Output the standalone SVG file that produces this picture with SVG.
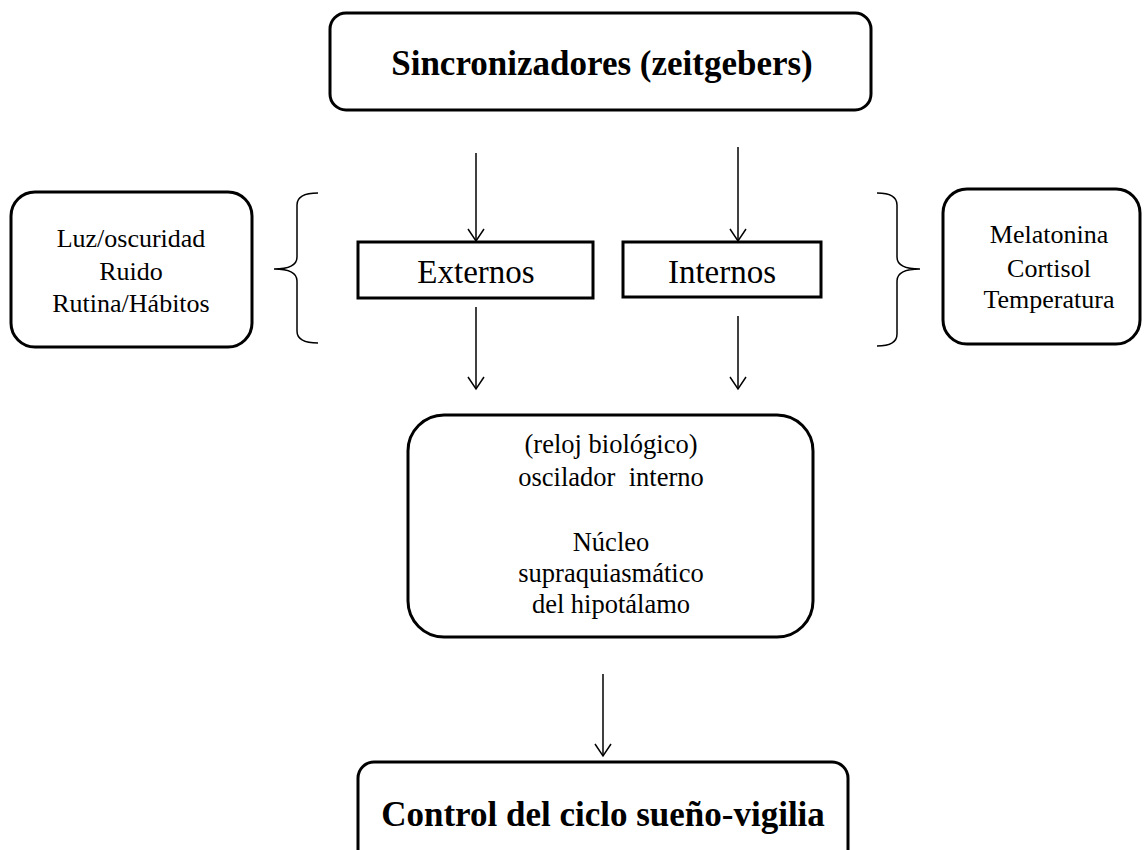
<svg xmlns="http://www.w3.org/2000/svg" width="1148" height="850" viewBox="0 0 1148 850">
<defs>
<style>
.box{fill:#fff;stroke:#000;stroke-width:3}
.t{font-family:"Liberation Serif","Times New Roman",serif;fill:#000;text-anchor:middle}
.b{font-weight:bold}
.ln{fill:none;stroke:#000;stroke-width:1.5}
</style>
<marker id="ah" viewBox="-14 -10 16 20" markerWidth="16" markerHeight="20" refX="0" refY="0" orient="auto" markerUnits="userSpaceOnUse" overflow="visible">
<path d="M-12,-8 L0,0 L-12,8" fill="none" stroke="#000" stroke-width="1.5"/>
</marker>
</defs>
<rect width="1148" height="850" fill="#fff"/>
<g id="sincronizadores">
<rect class="box" x="330" y="13" width="541" height="97" rx="16"/>
<text class="t b" x="602" y="75" font-size="35">Sincronizadores (zeitgebers)</text>
</g>
<g id="externos-lista">
<rect class="box" x="11" y="192" width="241" height="155" rx="24"/>
<text class="t" x="131" y="247" font-size="26">Luz/oscuridad</text>
<text class="t" x="131" y="280" font-size="26">Ruido</text>
<text class="t" x="131" y="312" font-size="26">Rutina/Hábitos</text>
</g>
<g id="externos">
<rect class="box" x="358" y="242" width="235" height="56"/>
<text class="t" x="476" y="283" font-size="33">Externos</text>
</g>
<g id="internos">
<rect class="box" x="623" y="242" width="198" height="55"/>
<text class="t" x="722" y="283" font-size="33">Internos</text>
</g>
<g id="internos-lista">
<rect class="box" x="943" y="189" width="197" height="155" rx="24"/>
<text class="t" x="1049" y="243" font-size="26">Melatonina</text>
<text class="t" x="1049" y="277" font-size="26">Cortisol</text>
<text class="t" x="1049" y="308" font-size="26">Temperatura</text>
</g>
<g id="oscilador">
<rect class="box" x="408" y="415" width="405" height="222" rx="36"/>
<text class="t" x="611" y="453" font-size="26.5">(reloj biológico)</text>
<text class="t" x="611" y="486" font-size="26.5" xml:space="preserve">oscilador  interno</text>
<text class="t" x="611" y="551" font-size="26.5">Núcleo</text>
<text class="t" x="611" y="582" font-size="26.5">supraquiasmático</text>
<text class="t" x="611" y="613" font-size="26.5">del hipotálamo</text>
</g>
<g id="control">
<rect class="box" x="358" y="762" width="490" height="110" rx="16"/>
<text class="t b" x="603" y="826" font-size="35">Control del ciclo sueño-vigilia</text>
</g>
<g id="connectors">
<path class="ln" d="M318,193 Q297,193 297,205 L297,257 Q297,269 274,269 Q297,269 297,281 L297,331 Q297,343 318,343"/>
<path class="ln" d="M877,193 Q897,193 897,205 L897,257 Q897,269 920,269 Q897,269 897,281 L897,334 Q897,346 877,346"/>
<line class="ln" x1="476" y1="153" x2="476" y2="241" marker-end="url(#ah)"/>
<line class="ln" x1="738" y1="147" x2="738" y2="241" marker-end="url(#ah)"/>
<line class="ln" x1="476" y1="307" x2="476" y2="389" marker-end="url(#ah)"/>
<line class="ln" x1="738" y1="316" x2="738" y2="389" marker-end="url(#ah)"/>
<line class="ln" x1="603" y1="674" x2="603" y2="756" marker-end="url(#ah)"/>
</g>
</svg>
